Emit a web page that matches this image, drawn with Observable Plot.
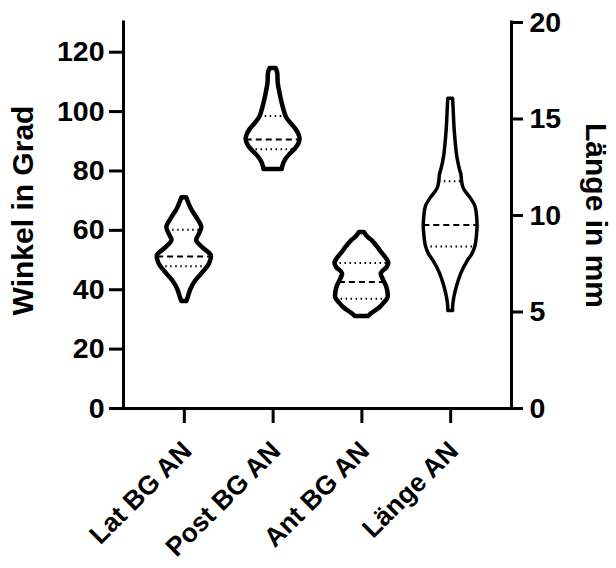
<!DOCTYPE html>
<html><head><meta charset="utf-8">
<script src="https://cdn.jsdelivr.net/npm/d3@7"></script>
<script src="https://cdn.jsdelivr.net/npm/@observablehq/plot@0.6"></script>
<style>body{margin:0;background:#fff;}</style>
</head><body><div id="chart"></div>
<script>
const categories = ["Lat BG AN", "Post BG AN", "Ant BG AN", "Länge AN"];
const angleTicks = [0, 20, 40, 60, 80, 100, 120];
const lengthTicks = [0, 5, 10, 15, 20];

// violin outlines: values (degrees / mm) and relative density (1 = widest)
const latValues  = [71, 69.5, 67, 64, 61, 58.5, 56.5, 54, 51.5, 49, 47.5, 45, 43, 40, 37.5, 36];
const latDensity = [0.09, 0.15, 0.27, 0.48, 0.65, 0.55, 0.46, 0.7, 1, 0.95, 0.85, 0.62, 0.43, 0.24, 0.15, 0.09];
const postValues  = [114.5, 113, 109.5, 106, 102.7, 100, 98, 96, 94, 92, 90.5, 89, 87.3, 85.5, 83.5, 81.5, 80.5];
const postDensity = [0.11, 0.17, 0.19, 0.26, 0.34, 0.42, 0.5, 0.66, 0.85, 0.97, 1, 0.95, 0.82, 0.62, 0.45, 0.36, 0.34];
const antValues  = [59.3, 58, 56.6, 54.5, 52.7, 50.5, 49, 47.5, 45.4, 43.5, 41, 38, 37, 35.5, 34, 32.5, 31.5, 31];
const antDensity = [0.09, 0.19, 0.37, 0.57, 0.72, 0.91, 1, 0.94, 0.72, 0.79, 0.92, 0.98, 0.96, 0.83, 0.68, 0.45, 0.3, 0.26];
const laengeValues  = [16.05, 15.5, 14.4, 13, 12.4, 12.1, 11.8, 11.45, 11.2, 10.9, 10.5, 10.2, 9.5, 9, 8.4, 8, 7.65, 7, 6.3, 5.7, 5.25, 5.05];
const laengeDensity = [0.09, 0.11, 0.15, 0.25, 0.34, 0.4, 0.42, 0.47, 0.57, 0.74, 0.91, 0.96, 1, 0.98, 0.92, 0.81, 0.64, 0.4, 0.23, 0.13, 0.09, 0.09];

// quartiles: [Q1, median, Q3]
const latQuartiles = [47.9, 51.2, 60.2];
const postQuartiles = [87.3, 90.6, 98.5];
const antQuartiles = [37, 42.6, 49];
const laengeQuartiles = [8.39, 9.51, 11.78];

const mmToAngle = 130 / 20; // right axis 0–20 mm on left scale 0–130
const halfWidth = 0.303;     // widest violin half-width in category units

const violins = [
  {cat: categories[0], pos: 1, values: latValues, density: latDensity, q: latQuartiles, k: 1, sw: 4.5},
  {cat: categories[1], pos: 2, values: postValues, density: postDensity, q: postQuartiles, k: 1, sw: 4.5},
  {cat: categories[2], pos: 3, values: antValues, density: antDensity, q: antQuartiles, k: 1, sw: 4.5},
  {cat: categories[3], pos: 4, values: laengeValues, density: laengeDensity, q: laengeQuartiles, k: mmToAngle, sw: 3.5}
];

const outline = violins.flatMap(v => v.values.map((val, j) => ({
  cat: v.cat, y: val * v.k,
  x1: v.pos - v.density[j] * halfWidth,
  x2: v.pos + v.density[j] * halfWidth
})));

function densityAt(v, val) {
  const xs = v.values, ds = v.density;
  for (let j = 0; j < xs.length - 1; j++) {
    const a = xs[j], b = xs[j + 1];
    if (val <= a && val >= b) {
      const t = (a - val) / (a - b);
      return ds[j] + t * (ds[j + 1] - ds[j]);
    }
  }
  return 0;
}
const qRows = violins.flatMap(v => v.q.map((val, j) => {
  const d = densityAt(v, val) * halfWidth;
  return {y: val * v.k, x1: v.pos - d, x2: v.pos + d, kind: j === 1 ? "median" : "quartile"};
}));

const font = {fontSize: 28.5, fontWeight: "bold"};

const chart = Plot.plot({
  width: 616, height: 568,
  marginTop: 22, marginBottom: 160, marginLeft: 123, marginRight: 105,
  style: {fontFamily: "'Liberation Sans', Arial, sans-serif", color: "black", background: "white"},
  x: {domain: [0.315, 4.685]},
  y: {domain: [0, 130]},
  marks: [
    ...violins.map(v => Plot.areaX(outline.filter(d => d.cat === v.cat), {y: "y", x1: "x1", x2: "x2",
      fill: "white", stroke: "black", strokeWidth: v.sw, strokeLinejoin: "round", curve: "catmull-rom"})),
    Plot.ruleY(qRows.filter(d => d.kind === "median"), {y: "y", x1: "x1", x2: "x2", stroke: "black", strokeWidth: 2, strokeDasharray: "6,4"}),
    Plot.ruleY(qRows.filter(d => d.kind === "quartile"), {y: "y", x1: "x1", x2: "x2", stroke: "black", strokeWidth: 2, strokeDasharray: "1.5,3.5"}),
    Plot.ruleX([0.315, 4.685], {strokeWidth: 3, strokeLinecap: "square"}),
    Plot.ruleY([0], {strokeWidth: 3, strokeLinecap: "square"}),
    Plot.axisY(angleTicks, {anchor: "left", tickSize: 14, tickPadding: 5, strokeWidth: 3, label: null, ...font}),
    Plot.axisY(lengthTicks.map(t => t * mmToAngle), {anchor: "right", tickSize: 11, tickPadding: 7, strokeWidth: 3, label: null,
      tickFormat: d => String(Math.round(d / mmToAngle)), ...font}),
    Plot.axisX([1, 2, 3, 4], {tickSize: 15, strokeWidth: 3, tickFormat: () => "", label: null}),
    Plot.text(categories, {x: (d, i) => i + 1, y: () => 0, text: d => d, rotate: -45, textAnchor: "end",
      lineAnchor: "middle", dx: 3, dy: 38, fontSize: 26.5, fontWeight: "bold"}),
    Plot.text(["Winkel in Grad"], {frameAnchor: "left", textAnchor: "middle", dx: -100, dy: -5, rotate: -90, fontSize: 30, fontWeight: "bold"}),
    Plot.text(["Länge in mm"], {frameAnchor: "right", textAnchor: "middle", dx: 84, rotate: 90, fontSize: 30, fontWeight: "bold"})
  ]
});
document.getElementById("chart").appendChild(chart);
</script></body></html>
